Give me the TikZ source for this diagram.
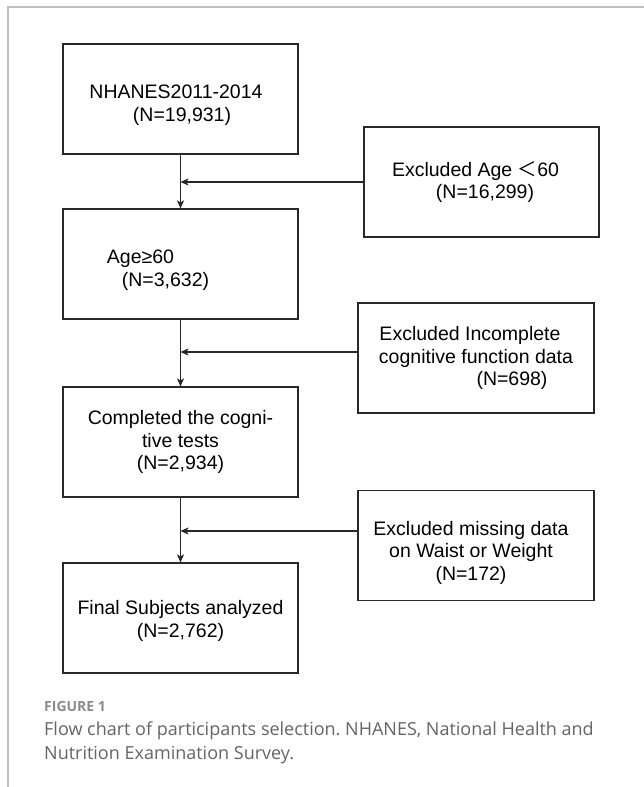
\documentclass[tikz,border=0pt]{standalone}
\usepackage{fontspec}
\setmainfont{Liberation Sans}
\newfontfamily\capfont{Open Sans}
\newfontfamily\cjk{Noto Sans CJK SC}
\usetikzlibrary{arrows.meta}
\definecolor{boxline}{RGB}{40,40,40}
\definecolor{framegray}{RGB}{192,192,192}
\definecolor{capgray}{RGB}{100,100,100}
\frenchspacing

\begin{document}
\begin{tikzpicture}
  [x=1pt,y=-1pt,
   every node/.style={inner sep=0pt},
   flowbox/.style={draw=boxline,line width=1.2pt,minimum width=235pt,minimum height=110pt},
   boxtext/.style={align=center,font=\fontsize{19.5}{22.5}\selectfont},
   link/.style={draw=boxline,line width=1.1pt,-{Stealth[length=8pt,width=7pt,inset=2pt]}}]

  \useasboundingbox (0,0) rectangle (644,787);
  \draw[framegray,line width=2pt] (8,787) -- (8,7) -- (644,7);

  % main column
  \node[flowbox] (n1) at (180.5,99)  {};
  \node[flowbox] (n2) at (180.5,264) {};
  \node[flowbox] (n3) at (180.5,442) {};
  \node[flowbox] (n4) at (180.5,618) {};
  \node[boxtext] (t1) at ([yshift=-6pt]n1) {NHANES2011-2014\hspace*{9pt}\\\hspace*{3pt}(N=19,931)};
  \node[boxtext] (t2) at ([yshift=-6pt]n2) {Age≥60\hspace*{80pt}\\(N=3,632)\hspace*{30pt}};
  \node[boxtext] (t3) at (n3) {Completed the cogni-\\tive tests\\(N=2,934)};
  \node[boxtext] (t4) at ([yshift=-3pt]n4) {Final Subjects analyzed\\(N=2,762)};

  % exclusions
  \node[flowbox] (e1) at (481.5,182) {};
  \node[flowbox,minimum width=236pt] (e2) at (476,358) {};
  \node[flowbox,minimum width=236pt] (e3) at (476,545.5) {};
  \node[boxtext] (s1) at (e1) {Excluded Age {\cjk ＜}60\hspace*{12pt}\\\hspace*{7pt}(N=16,299)};
  \node[boxtext] (s2) at (e2) {Excluded Incomplete\hspace*{12pt}\\cognitive function data\hspace*{12pt}\\\hspace*{72pt}(N=698)};
  \node[boxtext] (s3) at ([xshift=-5pt,yshift=-7pt]e3) {Excluded missing data\\on Waist or Weight\\(N=172)};

  \coordinate (m1) at (180.5,182);
  \coordinate (m2) at (180.5,352);
  \coordinate (m3) at (180.5,531);

  \foreach \from/\to in {n1/n2,n2/n3,n3/n4}
    \draw[link] (\from) -- (\to);
  \foreach \from/\to in {e1/m1,e2/m2,e3/m3}
    \draw[link] (\from.west |- \to) -- (\to);

  % caption
  \node[anchor=base west,text=capgray!75,font=\capfont\bfseries\fontsize{14}{16}\selectfont] (figno) at (44,711) {FIGURE 1};
  \node[anchor=base west,text=capgray,font=\capfont\fontsize{18}{24}\selectfont] (cap1) at (44,735) {Flow chart of participants selection. NHANES, National Health and};
  \node[anchor=base west,text=capgray,font=\capfont\fontsize{18}{24}\selectfont] (cap2) at (44,759) {Nutrition Examination Survey.};
\end{tikzpicture}
\end{document}
